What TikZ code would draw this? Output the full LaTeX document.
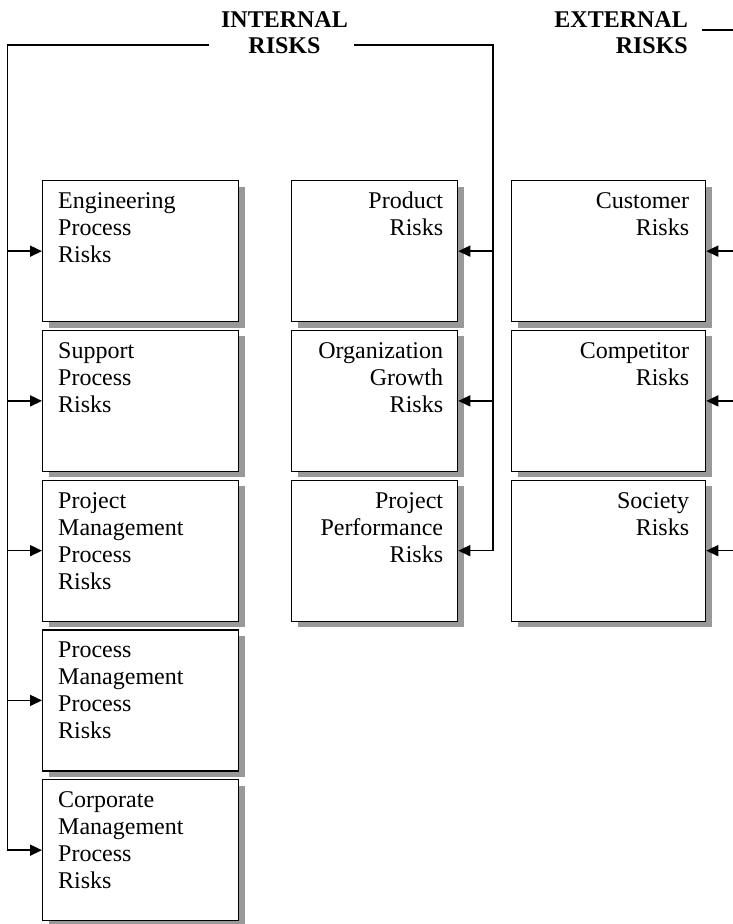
\documentclass[tikz,border=0pt]{standalone}
\usepackage{fontspec}
\setmainfont{Liberation Serif}
\usetikzlibrary{arrows.meta,shadows}

\begin{document}
\begin{tikzpicture}[x=1pt,y=-1pt,
  riskbox/.style={draw=black, line width=1.3pt, fill=white, rectangle,
    inner sep=0pt, anchor=north west,
    drop shadow={shadow xshift=6pt, shadow yshift=-6pt, fill=black!40, opacity=1}},
  widebox/.style={riskbox, minimum width=196pt, minimum height=141pt},
  midbox/.style={riskbox, minimum width=166pt, minimum height=141pt},
  extbox/.style={riskbox, minimum width=194pt, minimum height=141pt},
  bodytext/.style={inner sep=0pt, font=\fontsize{24}{27}\selectfont},
  headtext/.style={inner sep=0pt, font=\bfseries\fontsize{24}{26.5}\selectfont},
  conn/.style={line width=1.6pt, line cap=rect},
  feed/.style={conn, -{Triangle[length=12pt,width=11pt]}}
]
\useasboundingbox (0,0) rectangle (733,924);
\clip (0,0) rectangle (733,924);

% headings
\node[headtext, anchor=base] (intR) at (284.5,27)
  {\begin{tabular}[t]{@{}c@{}}INTERNAL\\RISKS\end{tabular}};
\node[headtext, anchor=base east] (extR) at (688,27)
  {\begin{tabular}[t]{@{}r@{}}EXTERNAL\\RISKS\end{tabular}};

% internal process risks (left column)
\node[widebox] (eng)  at (42,180)   {};
\node[widebox] (sup)  at (42,329.75) {};
\node[widebox] (pm)   at (42,479.5) {};
\node[widebox] (proc) at (42,629.25) {};
\node[widebox] (corp) at (42,779)   {};

% internal organisational risks (middle column)
\node[midbox] (prod) at (291,180)   {};
\node[midbox] (org)  at (291,329.75) {};
\node[midbox] (perf) at (291,479.5) {};

% external risks (right column)
\node[extbox] (cust) at (511,180)   {};
\node[extbox] (comp) at (511,329.75) {};
\node[extbox] (soc)  at (511,479.5) {};

% box texts
\node[bodytext, anchor=base west] at ([shift={(16,28.5)}]eng.north west)
  {\begin{tabular}[t]{@{}l@{}}Engineering\\Process\\Risks\end{tabular}};
\node[bodytext, anchor=base west] at ([shift={(16,28.5)}]sup.north west)
  {\begin{tabular}[t]{@{}l@{}}Support\\Process\\Risks\end{tabular}};
\node[bodytext, anchor=base west] at ([shift={(16,28.5)}]pm.north west)
  {\begin{tabular}[t]{@{}l@{}}Project\\Management\\Process\\Risks\end{tabular}};
\node[bodytext, anchor=base west] at ([shift={(16,28.5)}]proc.north west)
  {\begin{tabular}[t]{@{}l@{}}Process\\Management\\Process\\Risks\end{tabular}};
\node[bodytext, anchor=base west] at ([shift={(16,28.5)}]corp.north west)
  {\begin{tabular}[t]{@{}l@{}}Corporate\\Management\\Process\\Risks\end{tabular}};

\node[bodytext, anchor=base east] at ([shift={(-15,28.5)}]prod.north east)
  {\begin{tabular}[t]{@{}r@{}}Product\\Risks\end{tabular}};
\node[bodytext, anchor=base east] at ([shift={(-15,28.5)}]org.north east)
  {\begin{tabular}[t]{@{}r@{}}Organization\\Growth\\Risks\end{tabular}};
\node[bodytext, anchor=base east] at ([shift={(-15,28.5)}]perf.north east)
  {\begin{tabular}[t]{@{}r@{}}Project\\Performance\\Risks\end{tabular}};

\node[bodytext, anchor=base east] at ([shift={(-17,28.5)}]cust.north east)
  {\begin{tabular}[t]{@{}r@{}}Customer\\Risks\end{tabular}};
\node[bodytext, anchor=base east] at ([shift={(-17,28.5)}]comp.north east)
  {\begin{tabular}[t]{@{}r@{}}Competitor\\Risks\end{tabular}};
\node[bodytext, anchor=base east] at ([shift={(-17,28.5)}]soc.north east)
  {\begin{tabular}[t]{@{}r@{}}Society\\Risks\end{tabular}};

% connector routing points
\coordinate (lgapL) at (208,45);
\coordinate (lgapR) at (355,45);
\coordinate (ltop)  at (7.5,45);
\coordinate (mtop)  at (493,45);
\coordinate (egap)  at (703,30);
\coordinate (rtop)  at (748,30);

% internal risks: left spine
\draw[feed] (lgapL) -- (ltop) |- (corp.west);
\draw[feed] (ltop |- eng.west)  -- (eng.west);
\draw[feed] (ltop |- sup.west)  -- (sup.west);
\draw[feed] (ltop |- pm.west)   -- (pm.west);
\draw[feed] (ltop |- proc.west) -- (proc.west);

% internal risks: middle spine
\draw[feed] (lgapR) -- (mtop) |- (perf.east);
\draw[feed] (mtop |- prod.east) -- (prod.east);
\draw[feed] (mtop |- org.east)  -- (org.east);

% external risks: right spine
\draw[feed] (egap) -- (rtop) |- (soc.east);
\draw[feed] (rtop |- cust.east) -- (cust.east);
\draw[feed] (rtop |- comp.east) -- (comp.east);
\end{tikzpicture}
\end{document}
